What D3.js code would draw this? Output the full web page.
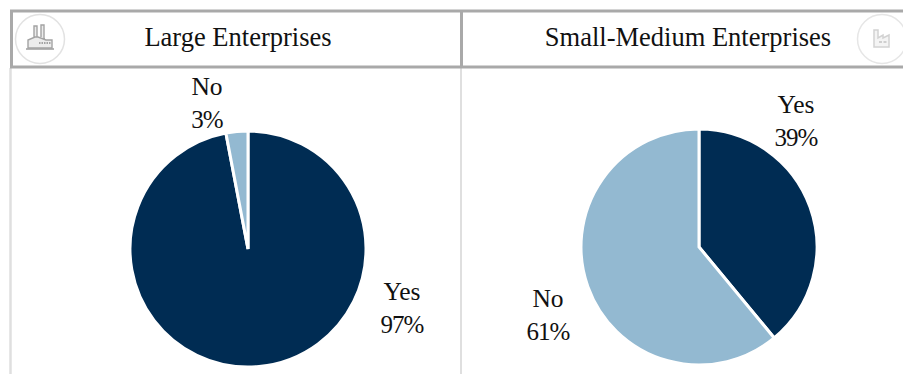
<!DOCTYPE html>
<html><head><meta charset="utf-8">
<script src="https://cdn.jsdelivr.net/npm/d3@7"></script>
<style>html,body{margin:0;padding:0;background:#fff;overflow:hidden}text{font-family:"Liberation Serif",serif;fill:#111}</style>
</head><body><svg id="c" width="903" height="374"></svg>
<script>
const panelTitles = ["Large Enterprises", "Small-Medium Enterprises"];
const categories = ["Yes", "No"];
const largeValues = [97, 3];
const smeValues = [39, 61];
const colors = d3.scaleOrdinal().domain(categories).range(["#002c53", "#93b9d1"]);
const svg = d3.select("#c");

// table rules
const rule = (x1,y1,x2,y2,c,w)=>svg.append("line").attr("x1",x1).attr("y1",y1).attr("x2",x2).attr("y2",y2).attr("stroke",c).attr("stroke-width",w);
rule(10.5,68,10.5,374,"#dfdfdf",2.5);
rule(461,68,461,374,"#dfdfdf",2);
rule(10,11,903,11,"#a9a9a9",3);
rule(10,67,903,67,"#a9a9a9",3);
rule(11.5,10,11.5,68,"#a9a9a9",3);
rule(461.5,10,461.5,68,"#a9a9a9",3);

// titles
svg.selectAll("text.title").data(panelTitles).join("text").attr("class","title")
  .attr("x",(d,i)=>[238,688][i]).attr("y",46).attr("text-anchor","middle").attr("font-size",26.5).text(d=>d);

// pies
const pie = d3.pie().sort(null).value(d=>d.v);
const arc = d3.arc().innerRadius(0).outerRadius(118);
function drawPie(cx,cy,values,labelPos){
  const g = svg.append("g").attr("transform",`translate(${cx},${cy})`);
  const rows = categories.map((c,i)=>({c,v:values[i]}));
  g.selectAll("path").data(pie(rows)).join("path").attr("d",arc)
    .attr("fill",d=>colors(d.data.c)).attr("stroke","#fff").attr("stroke-width",3);
  rows.forEach((r,i)=>{
    const t = svg.append("text").attr("text-anchor","middle").attr("font-size",25.5);
    t.append("tspan").attr("x",labelPos[i][0]).attr("y",labelPos[i][1]).text(r.c);
    t.append("tspan").attr("x",labelPos[i][0]).attr("y",labelPos[i][1]+33).attr("font-size",25).attr("letter-spacing",-1).text(r.v+"%");
  });
}
drawPie(248,249,largeValues,[[402,300],[207,95]]);
drawPie(699,247,smeValues,[[796,113],[548,307]]);

// enterprise badges
function badge(cx,cy,r,stroke,build){
  const g = svg.append("g").attr("transform",`translate(${cx},${cy})`);
  g.append("circle").attr("r",r).attr("fill","#fff").attr("stroke",stroke).attr("stroke-width",1.5);
  build(g);
}
badge(40,39,24.5,"#e2e2e2",g=>{
  g.append("path").attr("d","M-12,9 L-12,1 L-5,-2 L-2,-2 L6,1 L12,1 L12,9 Z M-6,-2 L-6,-13 L-3,-13 L-3,-2 M1,-2 L1,-14 L4,-14 L4,0")
   .attr("fill","#ececec").attr("stroke","#a3a3a3").attr("stroke-width",1.4);
  g.append("line").attr("x1",-14).attr("x2",14).attr("y1",10).attr("y2",10).attr("stroke","#a3a3a3").attr("stroke-width",1.6);
  g.append("line").attr("x1",-1).attr("x2",11).attr("y1",4).attr("y2",4).attr("stroke","#a3a3a3").attr("stroke-width",2).attr("stroke-dasharray","1.5 1");
});
badge(882,39,24.5,"#e6e6e6",g=>{
  g.append("path").attr("d","M-8,-9 L-4,-9 L-4,-1 L1,-4 L1,-1 L7,-4 L7,8 L-8,8 Z")
   .attr("fill","#f4f4f4").attr("stroke","#d2d2d2").attr("stroke-width",1.5);
  g.append("line").attr("x1",-3).attr("x2",5).attr("y1",3).attr("y2",3).attr("stroke","#cfcfcf").attr("stroke-width",2).attr("stroke-dasharray","3 1.5");
});
</script></body></html>
